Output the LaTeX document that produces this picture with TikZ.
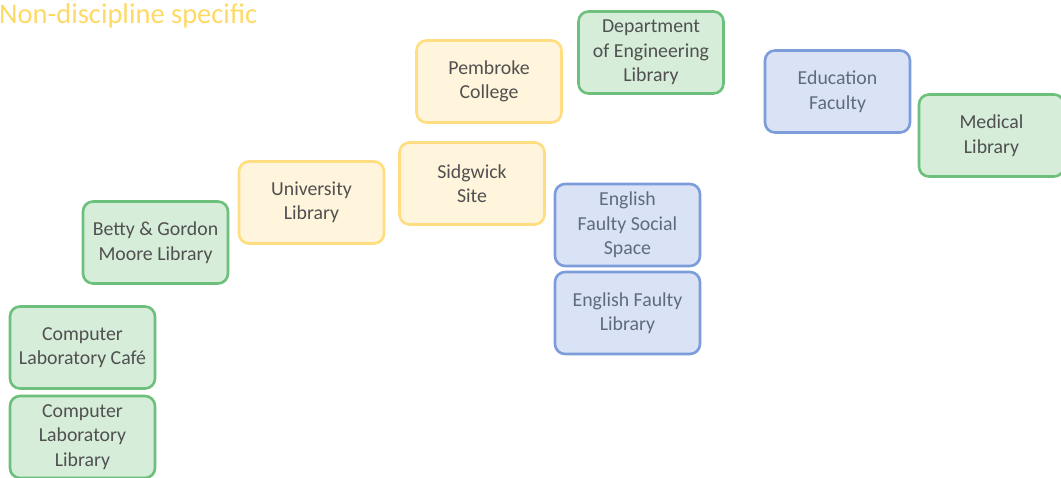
\documentclass[tikz,border=0pt]{standalone}
\usepackage{fontspec}
\setmainfont{Carlito}
\usepackage{xcolor}
\usepackage{tikz}
\definecolor{greenline}{HTML}{6DC07C}
\definecolor{greenfill}{HTML}{D6EDD9}
\definecolor{yellowline}{HTML}{FFDD80}
\definecolor{yellowfill}{HTML}{FFF5DC}
\definecolor{blueline}{HTML}{7C9DDA}
\definecolor{bluefill}{HTML}{DAE2F5}
\definecolor{labelgrey}{HTML}{505050}
\definecolor{labelblue}{HTML}{5F6B80}
\definecolor{heading}{HTML}{FFD966}

\tikzset{
  place/.style={rounded corners=10pt, line width=2.6pt, minimum width=145pt,
    minimum height=82pt, align=center, inner sep=0pt,
    font=\fontsize{19.8}{24.5}\selectfont},
  subject/.style={place, draw=greenline, fill=greenfill, text=labelgrey},
  general/.style={place, draw=yellowline, fill=yellowfill, text=labelgrey},
  faculty/.style={place, draw=blueline, fill=bluefill, text=labelblue}
}

\begin{document}
\begin{tikzpicture}[x=1pt, y=-1pt]
  \clip (0,0) rectangle (1061,478);
  \node[anchor=base west, text=heading, inner sep=0pt,
    font=\fontsize{28.5}{32}\selectfont] (title) at (-1,23.5) {Non-discipline specific};

  % yellow: shared spaces
  \node[general] (pembroke) at (489,81.5) {Pembroke\\College};
  \node[general] (unilib) at (311.5,202.5) {University\\Library};
  \node[general] (sidgwick) at (472,183.5) {Sidgwick\\Site};

  % green: subject libraries
  \node[subject] (englib) at (651,52.5) {Department\\of Engineering\\Library};
  \node[subject] (betty) at (155.5,242.5) {Betty \& Gordon\\Moore Library};
  \node[subject] (cafe) at (82.5,347.5) {Computer\\Laboratory Caf\'e};
  \node[subject] (cllib) at (82.5,437) {Computer\\Laboratory\\Library};
  \node[subject] (medlib) at (991.5,135.5) {Medical\\Library};

  % blue: faculty spaces
  \node[faculty] (edu) at (837.5,91.5) {Education\\Faculty};
  \node[faculty] (social) at (627.5,225) {English\\Faulty Social\\Space};
  \node[faculty] (faulty) at (627.5,313) {English Faulty\\Library};
\end{tikzpicture}
\end{document}
